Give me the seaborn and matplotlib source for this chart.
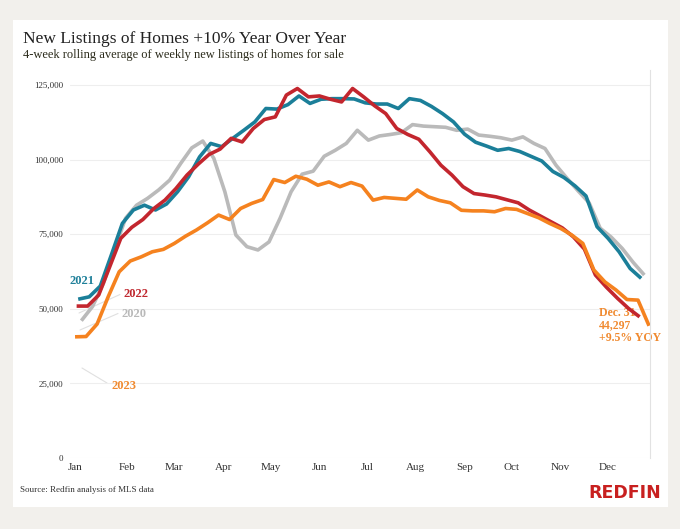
import numpy as np
import pandas as pd
import matplotlib
matplotlib.use("Agg")
import matplotlib.pyplot as plt
import seaborn as sns
from matplotlib.patches import Rectangle

# ---------------- data ----------------
years = [2020, 2021, 2022, 2023]
first_week_end = ["2020-01-05", "2021-01-03", "2022-01-02", "2023-01-01"]

listings_2020 = [46000, 50700, 58500, 69700, 80300, 84700, 87000, 89800, 93100, 98700,
                 103900, 106200, 100400, 89200, 74700, 70800, 69700, 72400, 80300, 89200,
                 95100, 96100, 101100, 103100, 105400, 109800, 106500, 107900, 108400, 109000,
                 111700, 111200, 111000, 110800, 109800, 110200, 108200, 107800, 107300, 106500,
                 107600, 105400, 103700, 98100, 93700, 89500, 85500, 77000, 74000, 70200,
                 65500, 61300]
listings_2021 = [53200, 54000, 57600, 68000, 78600, 83100, 84700, 83100, 85100, 89200,
                 94200, 100900, 105400, 104300, 107100, 109800, 112600, 117100, 116900, 118400,
                 121300, 118800, 120200, 120400, 120400, 120300, 119000, 118600, 118600, 117100,
                 120400, 119800, 117800, 115400, 112600, 108500, 105800, 104500, 103100, 103700,
                 102700, 101100, 99500, 96000, 94000, 91200, 87800, 77500, 73600, 69100,
                 63500, 60200]
listings_2022 = [50900, 50900, 54600, 64100, 73600, 77300, 79900, 83600, 86400, 90300,
                 94800, 98400, 101700, 103500, 107100, 105900, 110400, 113400, 114300, 121600,
                 123800, 121000, 121300, 120200, 119300, 123800, 121000, 118000, 115400, 110400,
                 108400, 106800, 102600, 98100, 94800, 90900, 88600, 88100, 87500, 86500,
                 85500, 83100, 81100, 79100, 77100, 74100, 70000, 61300, 57200, 53500,
                 50100, 47300]
listings_2023 = [40600, 40700, 44900, 54000, 62400, 66000, 67400, 69100, 69900, 71900,
                 74300, 76400, 78800, 81400, 79900, 83600, 85300, 86600, 93300, 92300,
                 94400, 93400, 91400, 92500, 90900, 92300, 91100, 86400, 87300, 87000,
                 86700, 89800, 87500, 86300, 85500, 83000, 82800, 82800, 82500, 83600,
                 83300, 81900, 80500, 78600, 76900, 74700, 71900, 63000, 59000, 56300,
                 53100, 52900, 44297]
series = [listings_2020, listings_2021, listings_2022, listings_2023]

month_labels = ["Jan", "Feb", "Mar", "Apr", "May", "Jun",
                "Jul", "Aug", "Sep", "Oct", "Nov", "Dec"]
y_ticks = [0, 25000, 50000, 75000, 100000, 125000]
y_tick_labels = ["0", "25,000", "50,000", "75,000", "100,000", "125,000"]

last_label = "Dec. 31\n44,297\n+9.5% YOY"

colors = {2020: "#bababa", 2021: "#1b7f99", 2022: "#c3262e", 2023: "#f5821f"}
label_colors = {2020: "#b9b9b9", 2021: "#1f809a", 2022: "#c0282f", 2023: "#f08a30"}

# build long table
frames = []
for yr, start, vals in zip(years, first_week_end, series):
    d = pd.date_range(start, periods=len(vals), freq="7D")
    frames.append(pd.DataFrame({"year": yr, "doy": d.dayofyear - 1, "listings": vals}))
df = pd.concat(frames, ignore_index=True)

# ---------------- figure ----------------
sns.set_style("white")
plt.rcParams["font.family"] = ["Liberation Serif", "DejaVu Serif"]

W, H = 680, 529
fig = plt.figure(figsize=(W / 100, H / 100), dpi=100, facecolor="#f2f0ec")
panel = Rectangle((13 / W, 1 - 507 / H), 655 / W, 487 / H,
                  transform=fig.transFigure, facecolor="white",
                  edgecolor="none", zorder=-10)
fig.add_artist(panel)

ax = fig.add_axes([70 / W, 1 - 458 / H, 580 / W, 388 / H])
ax.set_facecolor("none")
ax.set_zorder(1)

sns.lineplot(data=df, x="doy", y="listings", hue="year", hue_order=years,
             palette=colors, linewidth=2.6, legend=False, ax=ax, zorder=3)
for ln in ax.get_lines():
    ln.set_solid_joinstyle("round")
    ln.set_solid_capstyle("butt")

ax.set_xlim(-3.2, 364.6)
ax.set_ylim(0, 130000)

month_starts = np.array(pd.date_range("2023-01-01", periods=12, freq="MS").dayofyear - 1)
label_shift = np.array([0, 2, 4, 4, 4, 4, 4, 4, 4, 4, 4, 4])
ax.set_xticks(month_starts + label_shift)
ax.set_xticklabels(month_labels, fontsize=8, color="#333333")
ax.set_yticks(y_ticks)
ax.set_yticklabels(y_tick_labels, fontsize=6.5, color="#333333")
ax.tick_params(axis="both", length=0)
ax.tick_params(axis="x", pad=3.5)
ax.tick_params(axis="y", pad=5)
ax.set_xlabel("")
ax.set_ylabel("")
ax.grid(axis="y", color="#eeeeee", linewidth=0.8)
ax.set_axisbelow(True)
for s in ["left", "top", "bottom"]:
    ax.spines[s].set_visible(False)
ax.spines["right"].set_color("#e2e2e2")
ax.spines["right"].set_linewidth(0.8)

# year labels
def px_to_data(px, py):
    inv = ax.transData.inverted()
    return inv.transform(fig.transFigure.transform((px / W, 1 - py / H)))

lab = {2021: (70, 281.5), 2022: (124, 294), 2020: (122, 314), 2023: (111, 386)}
for yr, (px, py) in lab.items():
    x, y = px_to_data(px, py)
    ax.text(x, y, str(yr), color=label_colors[yr], fontsize=9, fontweight="bold",
            ha="left", va="center", zorder=4)

# faint leader lines
for (a, b) in [((120, 294.5), (79, 313)), ((118, 313.5), (80, 330)), ((82, 368), (107, 383))]:
    fig.add_artist(plt.Line2D([a[0] / W, b[0] / W], [1 - a[1] / H, 1 - b[1] / H],
                              transform=fig.transFigure, color="#e0e0e0", lw=0.8, zorder=0.5))

# end annotation (behind lines)
x, y = px_to_data(599, 307)
ax.text(x, y, last_label, color=label_colors[2023], fontsize=8.5, fontweight="bold",
        ha="left", va="top", linespacing=1.05, zorder=2)

# titles
fig.text(23 / W, 1 - 39 / H, "New Listings of Homes +10% Year Over Year",
         fontsize=12.5, color="#222222", ha="left", va="center")
fig.text(23 / W, 1 - 55 / H, "4-week rolling average of weekly new listings of homes for sale",
         fontsize=9, color="#2a2a1a", ha="left", va="center")
fig.text(20 / W, 1 - 490 / H, "Source: Redfin analysis of MLS data",
         fontsize=6.5, color="#333333", ha="left", va="center")

# logo
fig.text(588 / W, 1 - 492.5 / H, "REDFIN", fontsize=12.5, fontweight="bold", color="#c8201f",
         family=["Liberation Sans Narrow", "DejaVu Sans"], ha="left", va="center")

fig.savefig("out.png", dpi=100, facecolor=fig.get_facecolor())
